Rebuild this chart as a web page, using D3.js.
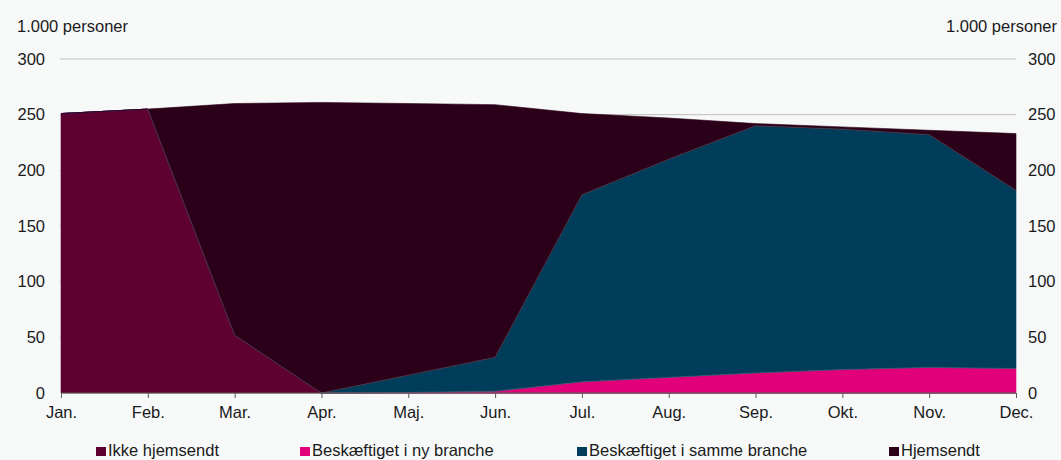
<!DOCTYPE html>
<html><head><meta charset="utf-8">
<script src="https://cdn.jsdelivr.net/npm/d3@7/dist/d3.min.js"></script>
<style>
body{margin:0;background:#f7f9f9;}
svg{display:block;font-family:"Liberation Sans",Arial,sans-serif;}
</style></head>
<body><svg id="c" width="1061" height="460"></svg>
<script>
const months = ["Jan.","Feb.","Mar.","Apr.","Maj.","Jun.","Jul.","Aug.","Sep.","Okt.","Nov.","Dec."];
const ikkeHjemsendt = [251, 255, 52, 0, 0, 0, 0, 0, 0, 0, 0, 0];
const nyBranche = [0, 0, 0, 0, 0.5, 1.5, 10, 14, 18, 21, 23, 22];
const sammeBranche = [0, 0, 0, 0, 15.5, 30.5, 168, 196, 222, 216, 209, 160];
const hjemsendt = [0, 0, 208, 261, 244, 227, 73, 37, 2, 2, 4, 51];
const yTicks = [0, 50, 100, 150, 200, 250, 300];
const seriesNames = ["Ikke hjemsendt","Beskæftiget i ny branche","Beskæftiget i samme branche","Hjemsendt"];
const colors = ["#5e0030","#e2007a","#003d5b","#2b0019"];
const FS = 16.5;

const svg = d3.select("#c");
const x = d3.scalePoint().domain(months).range([61, 1016]);
const y = d3.scaleLinear().domain([0, 300]).range([393, 59]);

const rows = months.map((m,i)=>({m, i, s0: ikkeHjemsendt[i], s1: nyBranche[i], s2: sammeBranche[i], s3: hjemsendt[i]}));
const stack = d3.stack().keys(["s0","s1","s2","s3"])(rows);

// gridlines
svg.append("g").selectAll("line").data(yTicks.filter(d=>d>0)).join("line")
  .attr("x1",60).attr("x2",1016).attr("y1",d=>y(d)).attr("y2",d=>y(d))
  .attr("stroke","#bdbdbd").attr("stroke-width",1);

const area = d3.area().x(d=>x(d.data.m)).y0(d=>y(d[0])).y1(d=>y(d[1]));
svg.append("g").selectAll("path").data(stack).join("path")
  .attr("d",area).attr("fill",(d,i)=>colors[i])
  .attr("stroke",(d,i)=>colors[i]).attr("stroke-width",0.6);
// thin separating lines
svg.append("g").selectAll("path").data(stack.slice(0,3)).join("path")
  .attr("d",(s,k)=>d3.line().defined(d=> k===0 ? d.data.i>=1 : d.data.i>=3)
      .x(d=>x(d.data.m)).y(d=>y(d[1]))(s))
  .attr("fill","none").attr("stroke","#8a8a8a").attr("stroke-width",0.5).attr("opacity",0.6);

// x axis
const xa = svg.append("g").attr("transform","translate(0,393)")
  .call(d3.axisBottom(x).tickSize(5).tickPadding(8));
xa.select(".domain").attr("stroke","#5a5a5a").attr("d","M61,0H1016");
xa.selectAll(".tick line").attr("stroke","#5a5a5a");
xa.selectAll("text").attr("font-size",FS).attr("fill","#1a1a1a").attr("font-family","Liberation Sans, Arial, sans-serif");

// y labels
const yl = svg.append("g").attr("transform","translate(45,0)")
  .call(d3.axisLeft(y).tickValues(yTicks).tickSize(0).tickPadding(0));
yl.select(".domain").remove();
yl.selectAll("text").attr("font-size",FS).attr("fill","#1a1a1a").attr("font-family","Liberation Sans, Arial, sans-serif");
const yr = svg.append("g").attr("transform","translate(1028,0)")
  .call(d3.axisRight(y).tickValues(yTicks).tickSize(0).tickPadding(0));
yr.select(".domain").remove();
yr.selectAll("text").attr("font-size",FS).attr("fill","#1a1a1a").attr("font-family","Liberation Sans, Arial, sans-serif");

svg.append("text").attr("x",17).attr("y",32).attr("font-size",FS).attr("fill","#1a1a1a").text("1.000 personer");
svg.append("text").attr("x",1057).attr("y",32).attr("text-anchor","end").attr("font-size",FS).attr("fill","#1a1a1a").text("1.000 personer");

// legend
const legX = [96, 300, 577, 889];
const lg = svg.append("g").selectAll("g").data(seriesNames).join("g")
  .attr("transform",(d,i)=>`translate(${legX[i]},447)`);
lg.append("rect").attr("width",10).attr("height",9).attr("fill",(d,i)=>colors[i]);
lg.append("text").attr("x",12).attr("y",9).attr("font-size",FS).attr("fill","#1a1a1a").text(d=>d);
</script></body></html>
